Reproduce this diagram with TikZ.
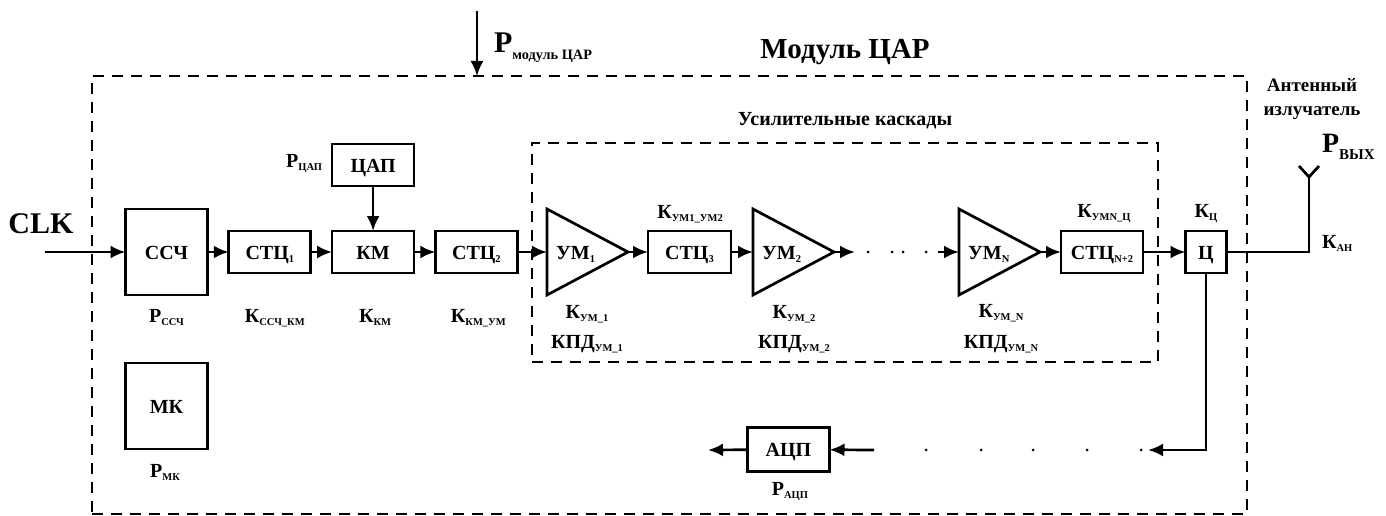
\documentclass[tikz,border=0pt]{standalone}
\usepackage{fontspec}
\setmainfont{Liberation Serif}
\usetikzlibrary{arrows.meta, positioning, shapes.geometric}
\newcommand{\lowsub}[1]{\raisebox{-3pt}{\fontsize{10.5}{11}\selectfont #1}}
\newcommand{\bigsub}[2]{\raisebox{-7pt}{\fontsize{#1}{#1}\selectfont #2}}

\begin{document}
\begin{tikzpicture}[x=1pt, y=-1pt,
  box/.style={draw, line width=2.7pt, outer sep=0pt, inner sep=0pt,
              minimum width=82pt, minimum height=42pt, align=center,
              text height=14pt, text depth=0pt,
              font=\fontsize{20}{22}\selectfont\bfseries},
  tallbox/.style={box, minimum height=86pt},
  amp/.style={draw, line width=2.7pt, outer sep=0pt, inner sep=0pt,
              isosceles triangle, isosceles triangle stretches,
              minimum width=86pt, minimum height=81pt},
  amptext/.style={inner sep=0pt, text height=14pt, text depth=0pt,
                  font=\fontsize{20}{22}\selectfont\bfseries},
  lbl/.style={inner sep=0pt, outer sep=0pt, align=center,
              font=\fontsize{20}{22}\selectfont\bfseries},
  arr/.style={-{Latex[length=15pt, width=13pt]}, line width=2.7pt},
  wire/.style={line width=2.7pt},
  grp/.style={draw, line width=2.5pt, dash pattern=on 11pt off 8pt,
              outer sep=0pt, inner sep=0pt},
]
  \useasboundingbox (0,0) rectangle (1386,516);

  % Frames
  \node[grp, minimum width=1155pt, minimum height=438pt] (module) at (669.5,295) {};
  \node[grp, minimum width=626pt, minimum height=219pt] (cascade) at (845,252.5) {};
  \node[lbl, font=\fontsize{29}{30}\selectfont\bfseries] (moduletitle) at (845,52) {Модуль ЦАР};
  \node[lbl, font=\fontsize{20}{22}\selectfont\bfseries] (cascadetitle) at (845,121) {Усилительные каскады};

  % Main chain
  \node[tallbox] (ssch) at (166.5,252) {ССЧ};
  \node[box, right=21.3pt of ssch] (stc1) {СТЦ\lowsub{1}};
  \node[box, right=21.3pt of stc1] (km)   {КМ};
  \node[box, right=21.3pt of km]   (stc2) {СТЦ\lowsub{2}};
  \node[box, above=45pt of km]     (dac)  {ЦАП};
  \node[amp, anchor=lower side] (um1) at (547,252) {};
  \node[box, minimum width=83pt, right=20pt of um1.apex] (stc3) {СТЦ\lowsub{3}};
  \node[amp, anchor=lower side] (um2) at (753,252) {};
  \node[amp, anchor=lower side] (umn) at (959,252) {};
  \node[box, right=21pt of umn.apex] (stcn) {СТЦ\lowsub{N+2}};
  \node[box, minimum width=41pt] (ts) at (1206,252) {Ц};

  \node[amptext, right=9pt of um1.lower side] (um1text) {УМ\lowsub{1}};
  \node[amptext, right=9pt of um2.lower side] (um2text) {УМ\lowsub{2}};
  \node[amptext, right=9pt of umn.lower side] (umntext) {УМ\lowsub{N}};

  % Lower blocks
  \node[tallbox] (mk) at (166.5,406) {МК};
  \node[box, minimum height=44pt] (adc) at (788.5,449.5) {АЦП};

  % Free ends
  \coordinate (clkin) at (45,252);
  \coordinate (pwrin) at (477,11);
  \coordinate (dotsa) at (855,252);
  \coordinate (dotsb) at (938,252);
  \coordinate (dotsc) at (1148,450);
  \coordinate (adcin) at (874,450);
  \coordinate (adcout) at (708,450);
  \coordinate (ant) at (1309,177);

  \draw[arr] (clkin) -- (ssch);
  \draw[arr] (ssch) -- (stc1);
  \draw[arr] (stc1) -- (km);
  \draw[arr] (km) -- (stc2);
  \draw[arr] (dac) -- (km);
  \draw[arr] (stc2) -- (um1.lower side);
  \draw[arr] (um1.apex) -- (stc3);
  \draw[arr] (stc3) -- (um2.lower side);
  \draw[arr] (um2.apex) -- (dotsa);
  \draw[arr] (dotsb) -- (umn.lower side);
  \draw[arr] (umn.apex) -- (stcn);
  \draw[arr] (stcn) -- (ts);
  \draw[arr] (ts.south) |- (dotsc);
  \draw[arr] (adcin) -- (adc);
  \draw[arr] (adc) -- (adcout);
  \draw[arr, line width=2pt] (pwrin) -- (pwrin |- module.north);
  \draw[wire] (ts.east) -| (ant);
  \draw[wire] (ant) -- +(-10,-11) (ant) -- +(10,-11);

  \foreach \dotx in {868,892,903,926}
    \fill (\dotx,252) circle (1.5pt);
  \foreach \dotx in {926,981,1033,1087,1141}
    \fill (\dotx,450) circle (1.5pt);

  % Labels
  \node[lbl, font=\fontsize{30}{32}\selectfont\bfseries] (clk) at (41,224) {CLK};
  \node[lbl, anchor=base west, font=\fontsize{30}{32}\selectfont\bfseries] (pwrlabel) at (494,53)
        {Р\bigsub{14.3}{модуль ЦАР}};
  \node[lbl, anchor=base west, font=\fontsize{28}{30}\selectfont\bfseries] (poutlabel) at (1322,153)
        {Р\bigsub{15}{ВЫХ}};
  \node[lbl, font=\fontsize{19}{24}\selectfont\bfseries] (antlabel) at (1312,99) {Антенный\\излучатель};

  \node[lbl, below=14pt of ssch] (pssch) {Р\lowsub{ССЧ}};
  \node[lbl, below=36pt of stc1, xshift=5pt] (kssch) {К\lowsub{ССЧ\_КМ}};
  \node[lbl, below=36pt of km, xshift=2pt] (kkm) {К\lowsub{КМ}};
  \node[lbl, below=36pt of stc2, xshift=2pt] (kkmum) {К\lowsub{КМ\_УМ}};
  \node[lbl, left=10pt of dac, yshift=1pt] (pdac) {Р\lowsub{ЦАП}};

  \node[lbl, anchor=base] (kumb) at (690,218) {К\lowsub{УМ1\_УМ2}};
  \node[lbl, anchor=base] (kumnts) at (1104,217) {К\lowsub{УМN\_Ц}};
  \node[lbl, anchor=base] (kts) at (1206,217) {К\lowsub{Ц}};
  \node[lbl, anchor=base west] (kan) at (1322,248) {К\lowsub{АН}};

  \node[lbl, anchor=base] (kum1) at (587,318) {К\lowsub{УМ\_1}};
  \node[lbl, anchor=base] (kpd1) at (587,348) {КПД\lowsub{УМ\_1}};
  \node[lbl, anchor=base] (kum2) at (794,318) {К\lowsub{УМ\_2}};
  \node[lbl, anchor=base] (kpd2) at (794,348) {КПД\lowsub{УМ\_2}};
  \node[lbl, anchor=base] (kumn) at (1001,317) {К\lowsub{УМ\_N}};
  \node[lbl, anchor=base] (kpdn) at (1001,348) {КПД\lowsub{УМ\_N}};

  \node[lbl, anchor=base] (pmk) at (165,477) {Р\lowsub{МК}};
  \node[lbl, anchor=base] (padc) at (790,495) {Р\lowsub{АЦП}};
\end{tikzpicture}
\end{document}
